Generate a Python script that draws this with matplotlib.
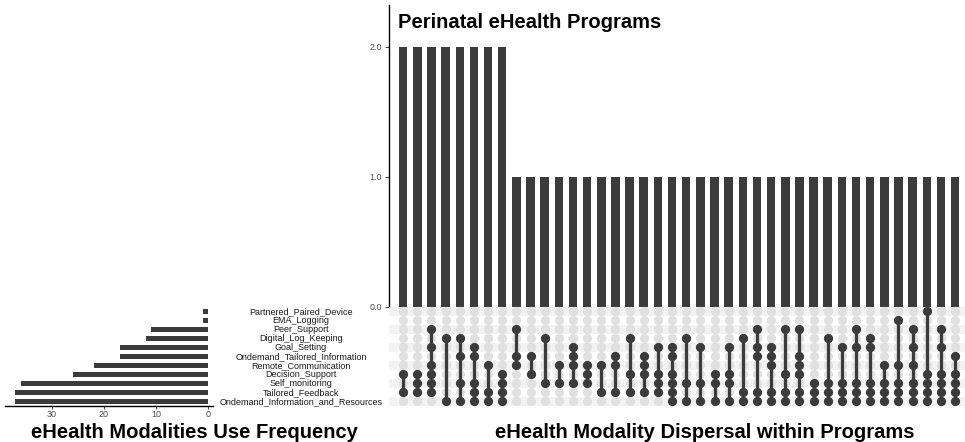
import matplotlib
matplotlib.use("Agg")
import matplotlib.pyplot as plt

plt.rcParams["font.family"] = ["Liberation Sans", "DejaVu Sans"]

# eHealth modalities, listed top to bottom as matrix rows
modalities = [
    "Partnered_Paired_Device",
    "EMA_Logging",
    "Peer_Support",
    "Digital_Log_Keeping",
    "Goal_Setting",
    "Ondemand_Tailored_Information",
    "Remote_Communication",
    "Decision_Support",
    "Self_monitoring",
    "Tailored_Feedback",
    "Ondemand_Information_and_Resources",
]

# number of programs using each modality
set_sizes = [1, 1, 11, 12, 17, 17, 22, 26, 36, 37, 37]

# number of programs sharing each modality combination
intersection_sizes = [2, 2, 2, 2, 2, 2, 2, 2,
                      1, 1, 1, 1, 1, 1, 1, 1, 1, 1, 1, 1, 1, 1, 1, 1,
                      1, 1, 1, 1, 1, 1, 1, 1, 1, 1, 1, 1, 1, 1, 1, 1]

# modality rows (indices into `modalities`) present in each combination
combinations = [
    [7, 9], [7, 8, 9], [2, 4, 6, 7, 8, 9], [3, 10], [3, 5, 8, 10],
    [4, 5, 8, 9, 10], [6, 9, 10], [7, 8, 9, 10],
    [2, 5, 6], [5, 7], [3, 8], [6, 8], [4, 5, 6, 8], [6, 7, 8], [6, 9],
    [5, 6, 9], [3, 7, 9], [5, 6, 7, 9], [4, 7, 8, 9], [4, 5, 7, 8, 9, 10],
    [3, 8, 10], [4, 8, 10], [7, 8, 10], [4, 7, 8, 10], [3, 9, 10],
    [2, 4, 5, 9, 10], [4, 5, 6, 9, 10], [2, 7, 9, 10], [2, 5, 6, 7, 9, 10],
    [8, 9, 10], [3, 8, 9, 10], [4, 8, 9, 10], [2, 4, 8, 9, 10],
    [3, 4, 8, 9, 10], [6, 8, 9, 10], [1, 6, 8, 9, 10], [2, 4, 6, 8, 9, 10],
    [0, 7, 8, 9, 10], [2, 4, 7, 8, 9, 10], [5, 7, 8, 9, 10],
]

DARK = "#3b3b3b"
LIGHT_DOT = "#e0e0e0"
SHADE = "#f3f3f3"
TICK_COL = "#4d4d4d"

W, H = 965, 442
fig = plt.figure(figsize=(W / 100, H / 100), dpi=100)


def rect(x0, y0, x1, y1):
    return [x0 / W, 1 - y1 / H, (x1 - x0) / W, (y1 - y0) / H]


n_rows = len(modalities)
n_cols = len(intersection_sizes)
xs = list(range(n_cols))
xlim = (-1.0, 39.7)

# --- intersection size bars -------------------------------------------
ax_bar = fig.add_axes(rect(389, 5, 965, 306.8))
ax_bar.bar(xs, intersection_sizes, width=0.6, color=DARK)
ax_bar.set_xlim(*xlim)
ax_bar.set_ylim(0, 2.32)
ax_bar.set_yticks([0, 1, 2])
ax_bar.set_yticklabels(["0.0", "1.0", "2.0"])
ax_bar.set_xticks([])
for s in ("top", "right", "bottom"):
    ax_bar.spines[s].set_visible(False)
ax_bar.spines["left"].set_linewidth(1.0)
ax_bar.tick_params(axis="y", labelsize=6.5, colors=TICK_COL, length=3,
                   width=0.8, pad=2)
ax_bar.axhline(0, color="#9a9a9a", lw=0.8)

# --- membership matrix ---------------------------------------------------
ax_mat = fig.add_axes(rect(389, 306.8, 965, 405.8))
ax_mat.set_xlim(*xlim)
ax_mat.set_ylim(n_rows - 0.5, -0.5)
for r in range(0, n_rows, 2):
    ax_mat.axhspan(r - 0.5, r + 0.5, color=SHADE, lw=0, zorder=0)
for i, rows in enumerate(combinations):
    ax_mat.scatter([i] * n_rows, range(n_rows), s=44, color=LIGHT_DOT,
                   lw=0, zorder=1)
    ax_mat.plot([i, i], [min(rows), max(rows)], color=DARK, lw=2.3,
                zorder=2, solid_capstyle="butt")
    ax_mat.scatter([i] * len(rows), rows, s=44, color=DARK, lw=0, zorder=3)
ax_mat.axis("off")

# --- set size bars ---------------------------------------------------------
ax_set = fig.add_axes(rect(5, 306.8, 213, 405.8))
ax_set.barh(range(n_rows), set_sizes, height=0.55, color=DARK)
ax_set.set_xlim(39, -0.9)
ax_set.set_ylim(n_rows - 0.5, -0.5)
ax_set.set_xticks([0, 10, 20, 30])
ax_set.set_yticks([])
for s in ("top", "right", "left"):
    ax_set.spines[s].set_visible(False)
ax_set.spines["bottom"].set_linewidth(1.0)
ax_set.tick_params(axis="x", labelsize=6.5, colors=TICK_COL, length=2.5,
                   width=0.8, pad=0.8)

# modality names between the two panels
for r, name in enumerate(modalities):
    y = 306.8 + (r + 0.5) * 9.0
    fig.text(301 / W, 1 - y / H, name, ha="center", va="center",
             fontsize=6.5, color="#1a1a1a")

# --- titles ------------------------------------------------------------------
fig.text(398 / W, 1 - 28.5 / H, "Perinatal eHealth Programs", ha="left",
         va="baseline", fontsize=14.5, fontweight="bold")
fig.text(194.5 / W, 1 - 437.5 / H, "eHealth Modalities Use Frequency",
         ha="center", va="baseline", fontsize=14.5, fontweight="bold")
fig.text(705 / W, 1 - 437.5 / H, "eHealth Modality Dispersal within Programs",
         ha="center", va="baseline", fontsize=14.5, fontweight="bold")

fig.savefig("out.png", dpi=100)
